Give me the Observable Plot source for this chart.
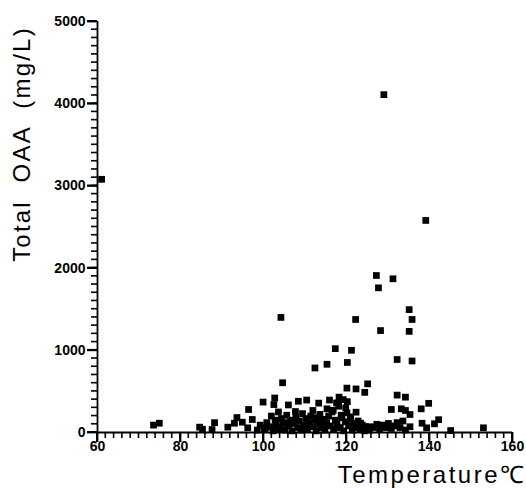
<!DOCTYPE html>
<html>
<head>
<meta charset="utf-8">
<script src="https://cdn.jsdelivr.net/npm/d3@7"></script>
<script src="https://cdn.jsdelivr.net/npm/@observablehq/plot@0.6"></script>
<style>
  html, body { margin: 0; padding: 0; background: #fff; }
  svg { display: block; }
  .ylab text { letter-spacing: 2.2px; }
  .xlab text { letter-spacing: 2.5px; }
</style>
</head>
<body>
<div id="chart"></div>
<script>
// Temperature (°C) and Total OAA (mg/L)
const temperature = [
  61.0, 129.0, 139.1, 127.2, 131.2, 127.7, 135.1, 135.8, 128.2, 135.1,
  104.2, 122.2, 117.3, 121.2, 112.4, 115.3, 120.2, 132.2, 135.8, 104.6,
  125.1, 120.1, 122.3, 124.4, 132.2, 134.2, 99.9, 102.7, 106.0, 108.4,
  110.4, 113.3, 115.9, 118.2, 120.2, 122.3, 115.3, 102.5, 96.4, 97.3,
  88.2, 84.6, 85.3, 87.6, 91.4, 93.6, 94.9, 93.0, 96.2, 100.5,
  73.5, 74.9, 107.7, 111.9, 130.8, 133.2, 134.2, 135.3, 138.0, 139.8,
  138.2, 139.3, 141.2, 142.2, 145.1, 153.0, 123.4, 124.6, 117.6, 119.2,
  100.2, 100.8, 101.5, 101.9, 102.3, 102.8, 103.1, 103.6, 103.9, 104.3,
  104.7, 105.2, 105.6, 106.1, 106.5, 106.9, 107.3, 107.8, 108.2, 108.6,
  109.0, 109.4, 109.8, 110.2, 110.6, 111.0, 111.4, 111.8, 112.2, 112.7,
  113.1, 113.6, 114.0, 114.4, 114.8, 115.2, 115.7, 116.1, 116.5, 116.9,
  117.3, 117.7, 118.1, 118.5, 118.9, 119.3, 119.7, 120.1, 120.5, 120.9,
  121.4, 121.8, 122.3, 122.8, 123.3, 123.8, 124.3, 124.9, 125.5, 126.2,
  126.5, 127.3, 128.0, 128.7, 129.4, 130.1, 130.8, 131.5, 132.2, 132.9,
  133.6, 134.2, 135.3, 98.5, 99.2, 103.4, 105.0, 109.2, 112.9, 114.6,
  116.8, 118.7, 121.0, 119.8
];
const totalOAA = [
  3080, 4110, 2580, 1910, 1870, 1760, 1495, 1375, 1240, 1230,
  1400, 1375, 1020, 1000, 785, 830, 852, 888, 870, 605,
  592, 540, 530, 488, 455, 430, 370, 420, 335, 380,
  395, 357, 395, 430, 375, 247, 288, 340, 280, 158,
  120, 65, 40, 36, 65, 182, 125, 113, 57, 57,
  90, 113, 255, 268, 280, 288, 268, 219, 288, 355,
  113, 57, 106, 156, 24, 57, 113, 73, 360, 400,
  40, 120, 70, 200, 20, 150, 90, 250, 40, 170,
  110, 30, 210, 80, 150, 20, 110, 190, 60, 140,
  30, 230, 90, 170, 40, 120, 200, 70, 150, 20,
  100, 220, 60, 160, 30, 120, 200, 80, 250, 40,
  150, 100, 320, 60, 180, 20, 130, 240, 80, 160,
  30, 110, 60, 140, 40, 90, 20, 60, 30, 70,
  60, 100, 40, 90, 60, 110, 50, 80, 120, 60,
  140, 30, 70, 30, 90, 60, 120, 50, 180, 90,
  270, 210, 190, 300
];

const xMajorTicks = [60, 80, 100, 120, 140, 160];
const yMajorTicks = [0, 1000, 2000, 3000, 4000, 5000];
const xMinorTicks = d3.range(60, 161, 2);
const yMinorTicks = d3.range(0, 5001, 100);
const xLabel = "Temperature\u2103";
const yLabel = "Total  OAA  (mg/L)";

const data = temperature.map((t, i) => ({t, v: totalOAA[i]}));

const W = 526, H = 488, ML = 97, MR = 14, MT = 21, MB = 56;
const frameW = W - ML - MR, frameH = H - MT - MB;
const yPerPx = 5000 / frameH, xPerPx = 100 / frameW;

const chart = Plot.plot({
  width: W,
  height: H,
  marginLeft: ML,
  marginRight: MR,
  marginTop: MT,
  marginBottom: MB,
  style: {fontFamily: "Liberation Sans, sans-serif", color: "black", background: "white"},
  x: {domain: [60, 160]},
  y: {domain: [0, 5000]},
  marks: [
    // minor ticks (6px, outward) as thin filled rectangles
    Plot.rect(xMinorTicks, {x1: d => d - 0.8 * xPerPx, x2: d => d + 0.8 * xPerPx,
      y1: 0, y2: -6 * yPerPx, fill: "black"}),
    Plot.rect(yMinorTicks, {y1: d => d - 0.8 * yPerPx, y2: d => d + 0.8 * yPerPx,
      x1: 60, x2: 60 - 6 * xPerPx, fill: "black"}),
    // major ticks (10px, outward)
    Plot.rect(xMajorTicks, {x1: d => d - 0.9 * xPerPx, x2: d => d + 0.9 * xPerPx,
      y1: 0, y2: -10 * yPerPx, fill: "black"}),
    Plot.rect(yMajorTicks, {y1: d => d - 0.9 * yPerPx, y2: d => d + 0.9 * yPerPx,
      x1: 60, x2: 60 - 10 * xPerPx, fill: "black"}),
    // tick labels
    Plot.axisX({ticks: xMajorTicks, tickSize: 10, tickPadding: -1, tickFormat: d => String(d),
      fontSize: 14, fontWeight: "bold", stroke: "black", strokeWidth: 1.8, label: null}),
    Plot.axisY({ticks: yMajorTicks, tickSize: 10, tickPadding: 2, tickFormat: d => String(d),
      fontSize: 14, fontWeight: "bold", stroke: "black", strokeWidth: 1.8, label: null}),
    Plot.ruleY([0], {stroke: "black", strokeWidth: 1.8}),
    Plot.ruleX([60], {stroke: "black", strokeWidth: 1.8}),
    Plot.dot(data, {x: "t", y: "v", symbol: "square", r: 3.8, fill: "black", stroke: "none"}),
    Plot.text([yLabel], {className: "ylab", frameAnchor: "left", rotate: -90, dx: -75, dy: -83,
      fontSize: 24, textAnchor: "middle", lineAnchor: "middle", fill: "black"}),
    Plot.text([xLabel], {className: "xlab", frameAnchor: "bottom-right", dx: 14, dy: 43,
      fontSize: 24, textAnchor: "end", lineAnchor: "middle", fill: "black"})
  ]
});
document.getElementById("chart").appendChild(chart);
</script>
</body>
</html>
